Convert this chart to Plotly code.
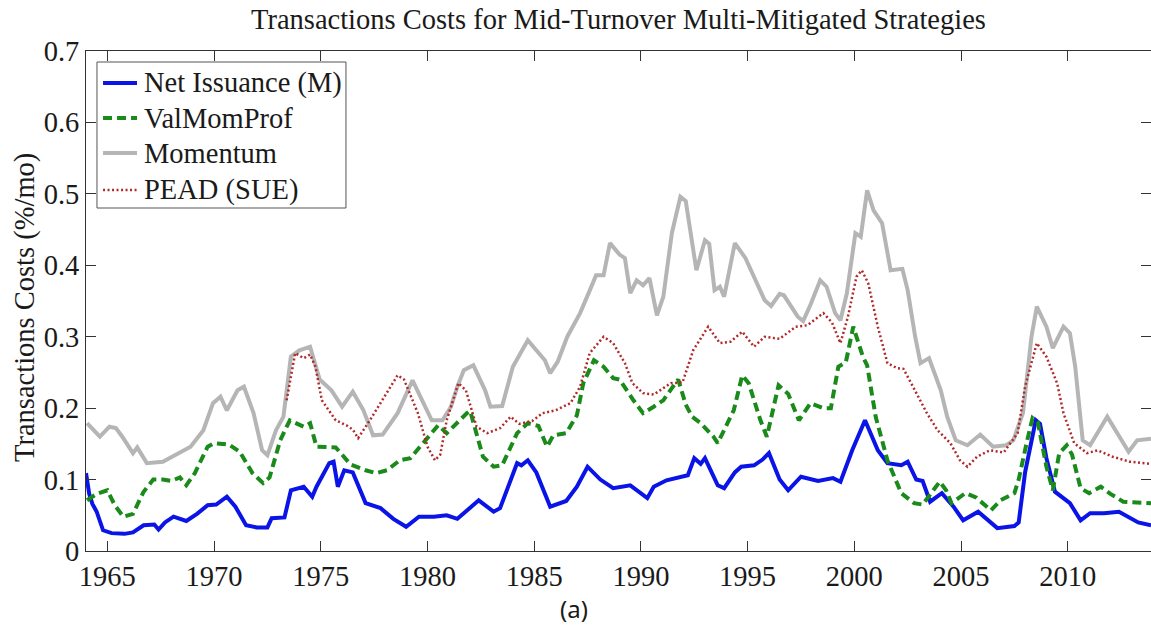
import plotly.graph_objects as go

# ---- series data (year, %/month) ----
net_issuance_years = [1964.0, 1964.15, 1964.3, 1964.5, 1964.8, 1965.2, 1965.8, 1966.2, 1966.7, 1967.2,
                      1967.4, 1967.7, 1968.1, 1968.7, 1969.2, 1969.7, 1970.1, 1970.6, 1971.0, 1971.5,
                      1972.0, 1972.5, 1972.7, 1973.3, 1973.6, 1974.2, 1974.6, 1974.8, 1975.4, 1975.6,
                      1975.8, 1976.1, 1976.5, 1977.1, 1977.8, 1978.4, 1979.0, 1979.6, 1980.3, 1980.9,
                      1981.4, 1982.0, 1982.4, 1983.1, 1983.4, 1984.2, 1984.4, 1984.7, 1985.1, 1985.75,
                      1986.5, 1987.0, 1987.5, 1988.1, 1988.7, 1989.5, 1990.3, 1990.6, 1991.2, 1992.2,
                      1992.5, 1992.8, 1993.0, 1993.6, 1993.9, 1994.4, 1994.7, 1995.3, 1995.7, 1996.0,
                      1996.5, 1996.9, 1997.5, 1998.3, 1999.0, 1999.35, 1999.9, 2000.5, 2001.1, 2001.55,
                      2002.2, 2002.5, 2002.9, 2003.2, 2003.55, 2004.1, 2004.65, 2005.1, 2005.8, 2006.7,
                      2007.5, 2007.7, 2008.0, 2008.5, 2008.7, 2009.0, 2009.4, 2010.1, 2010.6, 2011.05,
                      2011.7, 2012.4, 2013.3, 2013.9]
net_issuance_vals = [0.109, 0.080, 0.066, 0.055, 0.029, 0.025, 0.024, 0.026, 0.036, 0.037,
                     0.030, 0.040, 0.048, 0.042, 0.052, 0.064, 0.065, 0.076, 0.062, 0.036,
                     0.033, 0.033, 0.046, 0.047, 0.085, 0.090, 0.076, 0.090, 0.123, 0.125,
                     0.090, 0.113, 0.110, 0.067, 0.060, 0.045, 0.034, 0.048, 0.048, 0.050,
                     0.045, 0.060, 0.071, 0.055, 0.060, 0.123, 0.120, 0.127, 0.110, 0.062,
                     0.070, 0.090, 0.118, 0.100, 0.088, 0.092, 0.074, 0.090, 0.099, 0.106,
                     0.130, 0.122, 0.130, 0.092, 0.088, 0.110, 0.118, 0.120, 0.128, 0.137,
                     0.100, 0.085, 0.104, 0.098, 0.102, 0.097, 0.141, 0.183, 0.141, 0.123,
                     0.120, 0.125, 0.100, 0.098, 0.069, 0.081, 0.062, 0.043, 0.055, 0.032,
                     0.035, 0.040, 0.110, 0.183, 0.178, 0.130, 0.083, 0.067, 0.043, 0.053,
                     0.053, 0.055, 0.040, 0.036]

valmomprof_years = [1964.05, 1964.5, 1965.0, 1965.35, 1965.75, 1966.2, 1966.7, 1967.15, 1967.6, 1968.0,
                    1968.4, 1968.7, 1969.1, 1969.7, 1970.0, 1970.7, 1971.2, 1971.8, 1972.3, 1972.6,
                    1973.1, 1973.55, 1974.2, 1974.5, 1974.8, 1975.7, 1976.4, 1977.1, 1977.6, 1978.1,
                    1978.7, 1979.2, 1979.65, 1980.0, 1980.5, 1980.9, 1981.4, 1981.85, 1982.0, 1982.3,
                    1982.6, 1983.1, 1983.5, 1984.2, 1984.7, 1985.2, 1985.6, 1985.9, 1986.5, 1987.0,
                    1987.3, 1987.8, 1988.25, 1988.7, 1989.0, 1989.65, 1990.1, 1990.6, 1991.05, 1991.5,
                    1991.75, 1992.1, 1992.4, 1992.8, 1993.4, 1993.6, 1994.35, 1994.75, 1995.05, 1995.6,
                    1995.9, 1996.45, 1996.9, 1997.4, 1997.95, 1998.55, 1998.9, 1999.25, 1999.6, 1999.95,
                    2000.4, 2000.6, 2001.0, 2001.55, 2002.2, 2002.8, 2003.2, 2003.7, 2004.0, 2004.3,
                    2004.55, 2005.2, 2005.7, 2006.4, 2006.85, 2007.5, 2007.7, 2008.1, 2008.35, 2008.6,
                    2009.0, 2009.3, 2009.6, 2009.95, 2010.2, 2010.6, 2011.0, 2011.55, 2012.0, 2012.6,
                    2013.9]
valmomprof_vals = [0.071, 0.080, 0.085, 0.064, 0.048, 0.052, 0.083, 0.100, 0.100, 0.098,
                   0.103, 0.092, 0.109, 0.146, 0.151, 0.149, 0.139, 0.109, 0.095, 0.103,
                   0.155, 0.183, 0.174, 0.179, 0.146, 0.145, 0.121, 0.113, 0.109, 0.113,
                   0.127, 0.130, 0.146, 0.158, 0.176, 0.165, 0.180, 0.193, 0.196, 0.165,
                   0.132, 0.118, 0.120, 0.165, 0.179, 0.175, 0.146, 0.162, 0.165, 0.190,
                   0.235, 0.267, 0.258, 0.242, 0.240, 0.211, 0.193, 0.202, 0.211, 0.230,
                   0.240, 0.205, 0.188, 0.179, 0.160, 0.151, 0.197, 0.246, 0.235, 0.183,
                   0.160, 0.232, 0.220, 0.183, 0.207, 0.200, 0.200, 0.258, 0.264, 0.314,
                   0.272, 0.260, 0.188, 0.127, 0.081, 0.067, 0.065, 0.085, 0.097, 0.085,
                   0.067, 0.081, 0.075, 0.057, 0.071, 0.081, 0.100, 0.155, 0.186, 0.180,
                   0.118, 0.085, 0.137, 0.148, 0.135, 0.088, 0.081, 0.090, 0.080, 0.069,
                   0.067]

momentum_years = [1964.05, 1964.65, 1965.1, 1965.4, 1965.7, 1966.2, 1966.4, 1966.85, 1967.6, 1968.4,
                  1968.9, 1969.5, 1969.95, 1970.3, 1970.6, 1971.1, 1971.4, 1971.85, 1972.25, 1972.5,
                  1972.9, 1973.25, 1973.6, 1974.0, 1974.5, 1974.95, 1975.5, 1976.0, 1976.5, 1977.0,
                  1977.45, 1977.9, 1978.6, 1979.3, 1979.7, 1980.2, 1980.7, 1981.1, 1981.4, 1981.7,
                  1982.15, 1982.7, 1982.95, 1983.5, 1984.0, 1984.7, 1985.1, 1985.5, 1985.75, 1986.1,
                  1986.55, 1987.15, 1987.55, 1987.9, 1988.25, 1988.55, 1989.0, 1989.25, 1989.5, 1989.8,
                  1990.1, 1990.4, 1990.75, 1991.05, 1991.45, 1991.85, 1992.1, 1992.35, 1992.6, 1993.0,
                  1993.2, 1993.45, 1993.7, 1993.9, 1994.4, 1994.9, 1995.3, 1995.8, 1996.1, 1996.5,
                  1996.7, 1997.0, 1997.35, 1997.6, 1997.95, 1998.4, 1998.7, 1999.1, 1999.35, 1999.65,
                  2000.05, 2000.3, 2000.6, 2000.9, 2001.3, 2001.7, 2002.25, 2002.5, 2002.85, 2003.1,
                  2003.5, 2004.05, 2004.35, 2004.75, 2005.3, 2005.9, 2006.5, 2007.1, 2007.45, 2007.9,
                  2008.3, 2008.55, 2009.0, 2009.3, 2009.8, 2010.1, 2010.35, 2010.7, 2011.05, 2011.85,
                  2012.3, 2012.85, 2013.25, 2013.9]
momentum_vals = [0.179, 0.160, 0.174, 0.172, 0.160, 0.137, 0.145, 0.123, 0.125, 0.137,
                 0.146, 0.169, 0.207, 0.216, 0.197, 0.225, 0.230, 0.193, 0.141, 0.134,
                 0.169, 0.188, 0.272, 0.281, 0.286, 0.240, 0.225, 0.202, 0.223, 0.197,
                 0.162, 0.163, 0.193, 0.239, 0.215, 0.183, 0.183, 0.202, 0.230, 0.253,
                 0.260, 0.225, 0.202, 0.203, 0.258, 0.295, 0.281, 0.267, 0.249, 0.265,
                 0.300, 0.333, 0.361, 0.386, 0.386, 0.431, 0.415, 0.410, 0.361, 0.379,
                 0.372, 0.382, 0.330, 0.356, 0.445, 0.496, 0.490, 0.445, 0.393, 0.435,
                 0.430, 0.365, 0.370, 0.356, 0.431, 0.410, 0.384, 0.351, 0.343, 0.360,
                 0.358, 0.345, 0.328, 0.322, 0.345, 0.379, 0.370, 0.333, 0.323, 0.361,
                 0.445, 0.440, 0.505, 0.477, 0.459, 0.393, 0.395, 0.365, 0.300, 0.263,
                 0.270, 0.225, 0.188, 0.155, 0.148, 0.163, 0.146, 0.148, 0.155, 0.193,
                 0.300, 0.342, 0.314, 0.284, 0.314, 0.305, 0.258, 0.155, 0.148, 0.188,
                 0.165, 0.139, 0.155, 0.157]

pead_years = [1973.4, 1973.8, 1974.2, 1974.5, 1974.75, 1975.05, 1975.7, 1976.2, 1976.5, 1976.75,
              1977.3, 1978.1, 1978.6, 1978.9, 1979.55, 1980.0, 1980.35, 1980.6, 1980.9, 1981.45,
              1981.8, 1982.3, 1982.8, 1983.4, 1983.9, 1984.3, 1984.9, 1985.4, 1986.0, 1986.7,
              1987.15, 1987.6, 1988.25, 1988.7, 1989.25, 1989.6, 1990.1, 1990.6, 1991.4, 1991.95,
              1992.45, 1993.15, 1993.7, 1994.2, 1994.75, 1995.3, 1995.8, 1996.5, 1997.25, 1997.8,
              1998.55, 1998.95, 1999.35, 1999.7, 2000.1, 2000.35, 2000.65, 2001.1, 2001.55, 2002.0,
              2002.3, 2002.75, 2003.4, 2003.9, 2004.5, 2004.95, 2005.3, 2005.75, 2006.35, 2007.0,
              2007.65, 2008.0, 2008.55, 2009.0, 2009.5, 2009.8, 2010.3, 2010.9, 2011.4, 2012.1,
              2012.9, 2013.9]
pead_vals = [0.211, 0.277, 0.270, 0.275, 0.258, 0.211, 0.183, 0.176, 0.170, 0.158,
             0.183, 0.221, 0.246, 0.240, 0.193, 0.146, 0.127, 0.135, 0.183, 0.235,
             0.225, 0.174, 0.165, 0.172, 0.188, 0.178, 0.182, 0.193, 0.197, 0.207,
             0.230, 0.277, 0.300, 0.291, 0.263, 0.235, 0.221, 0.219, 0.235, 0.236,
             0.281, 0.314, 0.291, 0.293, 0.307, 0.286, 0.300, 0.297, 0.314, 0.316,
             0.333, 0.320, 0.291, 0.328, 0.384, 0.393, 0.375, 0.314, 0.263, 0.256,
             0.255, 0.230, 0.193, 0.169, 0.151, 0.127, 0.118, 0.132, 0.141, 0.138,
             0.165, 0.230, 0.291, 0.272, 0.235, 0.193, 0.151, 0.137, 0.141, 0.132,
             0.125, 0.122]

x_tick_years = [1965, 1970, 1975, 1980, 1985, 1990, 1995, 2000, 2005, 2010]
y_tick_vals = [0, 0.1, 0.2, 0.3, 0.4, 0.5, 0.6, 0.7]
y_tick_text = ["0", "0.1", "0.2", "0.3", "0.4", "0.5", "0.6", "0.7"]

SERIF = "Liberation Serif"
INK = "#1a1a1a"
FS = 28.5

# series styling: (name, x, y, line style)
series = [
    ("Net Issuance (M)", net_issuance_years, net_issuance_vals, dict(color="#0a14e6", width=4)),
    ("ValMomProf", valmomprof_years, valmomprof_vals, dict(color="#1a8a1a", width=4, dash="9px,5px")),
    ("Momentum", momentum_years, momentum_vals, dict(color="#b5b5b5", width=4)),
    ("PEAD (SUE)", pead_years, pead_vals, dict(color="#b02a2a", width=2.5, dash="2px,2.5px")),
]

fig = go.Figure()
for name, xs, ys, style in series:
    fig.add_trace(go.Scatter(x=xs, y=ys, mode="lines", name=name, line=style, showlegend=False))

# compact legend box in the upper-left corner (paper coordinates)
leg_x0, leg_x1 = 0.0103, 0.2441
leg_y0, leg_y1 = 0.686, 0.978
row_y = [0.936, 0.866, 0.796, 0.722]
sample_x0, sample_x1, label_x = 0.0160, 0.0479, 0.0526

shapes = [dict(type="rect", xref="paper", yref="paper", x0=leg_x0, x1=leg_x1, y0=leg_y0, y1=leg_y1,
               line=dict(color="#555555", width=1), fillcolor="white", layer="above")]
annotations = []
for (name, _, _, style), ry in zip(series, row_y):
    shapes.append(dict(type="line", xref="paper", yref="paper", x0=sample_x0, x1=sample_x1,
                       y0=ry, y1=ry, line=style, layer="above"))
    annotations.append(dict(text=name, xref="paper", yref="paper", x=label_x, y=ry,
                            xanchor="left", yanchor="middle", showarrow=False,
                            font=dict(family=SERIF, size=FS, color=INK)))

annotations += [
    dict(text="Transactions Costs for Mid-Turnover Multi-Mitigated Strategies",
         xref="paper", yref="paper", x=0.5, y=1.062, xanchor="center", yanchor="middle",
         showarrow=False, font=dict(family=SERIF, size=FS, color=INK)),
    dict(text="Transactions Costs (%/mo)", textangle=-90,
         xref="paper", yref="paper", x=-0.0573, y=0.488, xanchor="center", yanchor="middle",
         showarrow=False, font=dict(family=SERIF, size=FS, color=INK)),
    dict(text="(a)", xref="paper", yref="paper", x=0.458, y=-0.114,
         xanchor="center", yanchor="middle", showarrow=False,
         font=dict(family="Noto Sans", size=24, color=INK)),
]

axis_common = dict(
    showline=True, linecolor="#333333", linewidth=1, mirror="ticks",
    ticks="inside", ticklen=10, tickwidth=1, tickcolor="#333333",
    showgrid=False, zeroline=False,
    tickfont=dict(family=SERIF, size=FS, color=INK),
)

fig.update_layout(
    width=1151, height=628,
    margin=dict(l=86, r=0, t=51, b=77),
    paper_bgcolor="white", plot_bgcolor="white",
    xaxis=dict(range=[1964, 2013.9], tickvals=x_tick_years,
               ticktext=[str(v) for v in x_tick_years], **axis_common),
    yaxis=dict(range=[0, 0.7], tickvals=y_tick_vals, ticktext=y_tick_text, **axis_common),
    shapes=shapes,
    annotations=annotations,
)

fig.write_html("out.html")
